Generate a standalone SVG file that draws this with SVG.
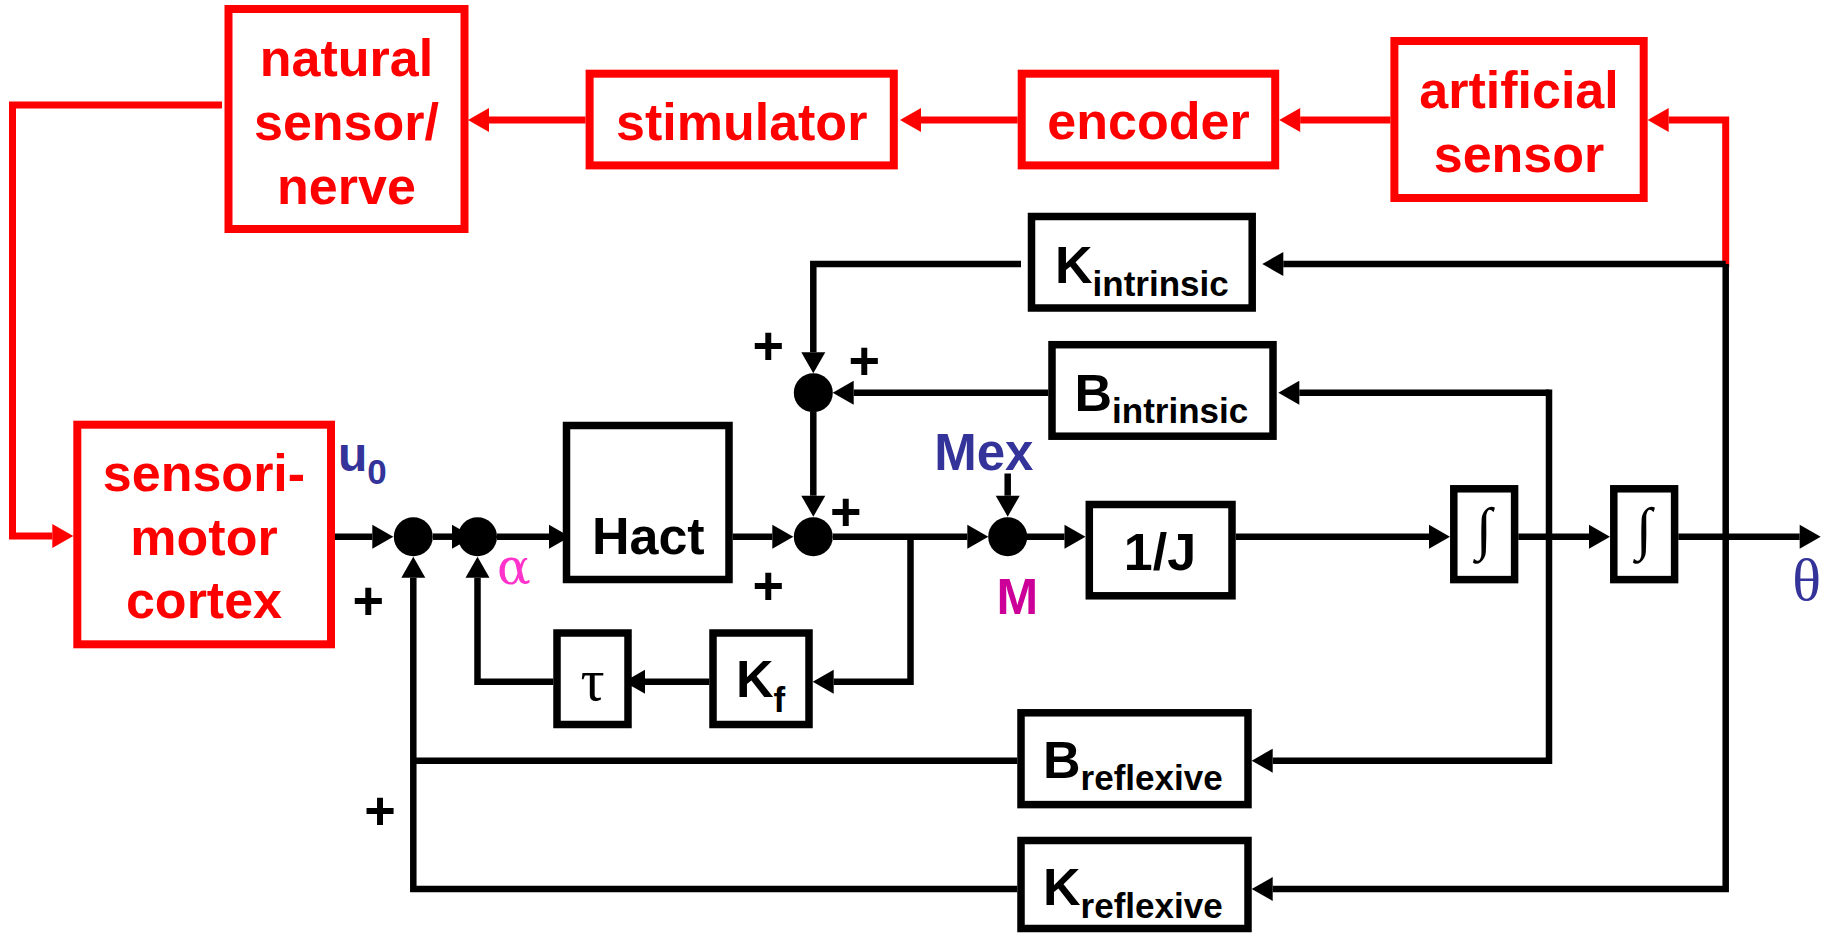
<svg xmlns="http://www.w3.org/2000/svg" width="1832" height="933" viewBox="0 0 1832 933">
<style>
.rb{fill:#fff;stroke:#f00;stroke-width:8}
.bb{fill:#fff;stroke:#000;stroke-width:7.5}
.t{font-family:"Liberation Sans",Arial,sans-serif;font-weight:bold;font-size:52px}
.rt{fill:#f00;text-anchor:middle}
.bt{fill:#000}
.mid{text-anchor:middle}
.sub{font-size:35px}
.wr{fill:none;stroke:#f00;stroke-width:7}
.wb{fill:none;stroke:#000;stroke-width:6.5}
.ra{marker-end:url(#ar)}
.ba{marker-end:url(#ab)}
.pl{font-family:"Liberation Sans",Arial,sans-serif;font-weight:bold;font-size:54px;text-anchor:middle;fill:#000}
.gr{font-family:"Liberation Serif","Times New Roman",serif;text-anchor:middle}
.gd{font-family:"DejaVu Serif",serif;text-anchor:middle}
.blue{fill:#333399}
.jn{fill:#000}
</style>
<defs>
<marker id="ab" markerUnits="userSpaceOnUse" markerWidth="21" markerHeight="24" viewBox="0 0 21 24" refX="0" refY="12" orient="auto" overflow="visible"><path d="M0,0 L21,12 L0,24 z" fill="#000"/></marker>
<marker id="ar" markerUnits="userSpaceOnUse" markerWidth="21" markerHeight="24" viewBox="0 0 21 24" refX="0" refY="12" orient="auto" overflow="visible"><path d="M0,0 L21,12 L0,24 z" fill="#f00"/></marker>
</defs>
<rect width="1832" height="933" fill="#fff"/>

<g id="connectors">
<path class="wr ra" d="M222,105 L12.5,105 L12.5,536 L52.3,536"/>
<path class="wr ra" d="M585.6,120 L489,120"/>
<path class="wr ra" d="M1017.7,120 L921,120"/>
<path class="wr ra" d="M1390.4,120 L1300.2,120"/>
<path class="wr ra" d="M1725.7,267 L1725.7,120 L1668.7,120"/>

<path class="wb ba" d="M335,536.7 L372.3,536.7"/>
<path class="wb ba" d="M433,536.7 L452,536.7"/>
<path class="wb ba" d="M497,536.7 L549,536.7"/>
<path class="wb ba" d="M732.7,536.7 L772.3,536.7"/>
<path class="wb ba" d="M833,536.7 L967.3,536.7"/>
<path class="wb ba" d="M1027,536.7 L1064.5,536.7"/>
<path class="wb ba" d="M1235.8,536.7 L1429,536.7"/>
<path class="wb ba" d="M1518.3,536.7 L1589,536.7"/>
<path class="wb ba" d="M1678.3,536.7 L1799.7,536.7"/>
<path class="wb ba" d="M1007.7,473.5 L1007.7,495.7"/>
<path class="wb ba" d="M813.3,412 L813.3,495.7"/>
<path class="wb ba" d="M1021,264 L813.3,264 L813.3,352.3"/>
<path class="wb ba" d="M1725.7,264 L1283.3,264"/>
<path class="wb ba" d="M1725.7,264 L1725.7,889 L1272.7,889"/>
<path class="wb ba" d="M1549,392.7 L1299.3,392.7"/>
<path class="wb ba" d="M1549,389.5 L1549,760.7 L1272.7,760.7"/>
<path class="wb ba" d="M1048.3,392.7 L853.7,392.7"/>
<path class="wb ba" d="M910.5,536.7 L910.5,681.7 L833.7,681.7"/>
<path class="wb ba" d="M709.3,681.7 L645,681.7"/>
<path class="wb ba" d="M553.3,681.7 L477.5,681.7 L477.5,577.7"/>
<path class="wb" d="M1017.3,760.7 L413.3,760.7"/>
<path class="wb ba" d="M1017.3,889 L413.3,889 L413.3,577.7"/>
</g>

<g id="natural-sensor">
<rect class="rb" x="228.5" y="9" width="236" height="220"/>
<text class="t rt" x="346.5" y="75.8">natural</text>
<text class="t rt" x="346.5" y="139.7">sensor/</text>
<text class="t rt" x="346.5" y="203.7">nerve</text>
</g>
<g id="stimulator">
<rect class="rb" x="589.6" y="73.7" width="304.2" height="91.7"/>
<text class="t rt" x="741.7" y="139.7">stimulator</text>
</g>
<g id="encoder">
<rect class="rb" x="1021.7" y="73.7" width="253.5" height="91.7"/>
<text class="t rt" x="1148.5" y="138.7">encoder</text>
</g>
<g id="artificial-sensor">
<rect class="rb" x="1394.4" y="41" width="249.3" height="157"/>
<text class="t rt" x="1519" y="107.7">artificial</text>
<text class="t rt" x="1519" y="171.7">sensor</text>
</g>
<g id="cortex">
<rect class="rb" x="77.3" y="424.7" width="253.7" height="219.6"/>
<text class="t rt" x="204" y="490.7">sensori-</text>
<text class="t rt" x="204" y="555">motor</text>
<text class="t rt" x="204" y="618.3">cortex</text>
</g>

<g id="K-intrinsic">
<rect class="bb" x="1031.5" y="216.5" width="220.7" height="91.5"/>
<text class="t bt" x="1055" y="282.7">K<tspan class="sub" y="296">intrinsic</tspan></text>
</g>
<g id="B-intrinsic">
<rect class="bb" x="1052" y="344.7" width="221" height="91.5"/>
<text class="t bt" x="1074.5" y="410.7">B<tspan class="sub" y="423.3">intrinsic</tspan></text>
</g>
<g id="Hact">
<rect class="bb" x="566.5" y="425.5" width="162.5" height="154"/>
<text class="t bt mid" x="648.3" y="554">Hact</text>
</g>
<g id="tau">
<rect class="bb" x="557" y="633" width="71" height="91.5"/>
<text class="gr" x="592.5" y="700" font-size="60">τ</text>
</g>
<g id="Kf">
<rect class="bb" x="713" y="633" width="96" height="91.5"/>
<text class="t bt" x="736" y="697.3">K<tspan class="sub" y="711.7">f</tspan></text>
</g>
<g id="inv-J">
<rect class="bb" x="1089.3" y="504.5" width="142.7" height="91.3"/>
<text class="t bt mid" x="1160" y="569.7">1/J</text>
</g>
<g id="int1">
<rect class="bb" x="1453.8" y="488.8" width="60.8" height="90.8"/>
<text class="gr" x="1484" y="548" font-size="58">∫</text>
</g>
<g id="int2">
<rect class="bb" x="1613.8" y="488.8" width="60.8" height="90.8"/>
<text class="gr" x="1644" y="548" font-size="58">∫</text>
</g>
<g id="B-reflexive">
<rect class="bb" x="1021" y="712.8" width="227" height="91.8"/>
<text class="t bt" x="1043" y="778.3">B<tspan class="sub" y="790">reflexive</tspan></text>
</g>
<g id="K-reflexive">
<rect class="bb" x="1021" y="840.5" width="227" height="88"/>
<text class="t bt" x="1043" y="905">K<tspan class="sub" y="918.3">reflexive</tspan></text>
</g>

<g id="junction-1"><circle class="jn" cx="413.3" cy="536.7" r="19.5"/></g>
<g id="junction-2"><circle class="jn" cx="477.5" cy="536.7" r="19.5"/></g>
<g id="junction-3"><circle class="jn" cx="813.3" cy="536.7" r="19.5"/></g>
<g id="junction-upper"><circle class="jn" cx="813.3" cy="392.7" r="19.5"/></g>
<g id="junction-M"><circle class="jn" cx="1007.7" cy="536.7" r="19.5"/></g>

<g id="labels">
<text class="t blue" x="338" y="470.7" style="font-size:48px">u<tspan style="font-size:35px" y="484">0</tspan></text>
<text class="gd" x="514" y="584" font-size="50" fill="#FF33CC">α</text>
<text class="t blue mid" x="983.8" y="470" style="font-size:51px">Mex</text>
<text class="t mid" x="1017.4" y="613.8" fill="#CC0099" style="font-size:50px">M</text>
<text class="gr blue" x="1806.7" y="600" font-size="60">θ</text>
<text class="pl" x="368.3" y="618.6">+</text>
<text class="pl" x="380" y="828.6">+</text>
<text class="pl" x="768.3" y="363.6">+</text>
<text class="pl" x="864.3" y="379.3">+</text>
<text class="pl" x="845.7" y="530.3">+</text>
<text class="pl" x="768.3" y="603.6">+</text>
</g>
</svg>
